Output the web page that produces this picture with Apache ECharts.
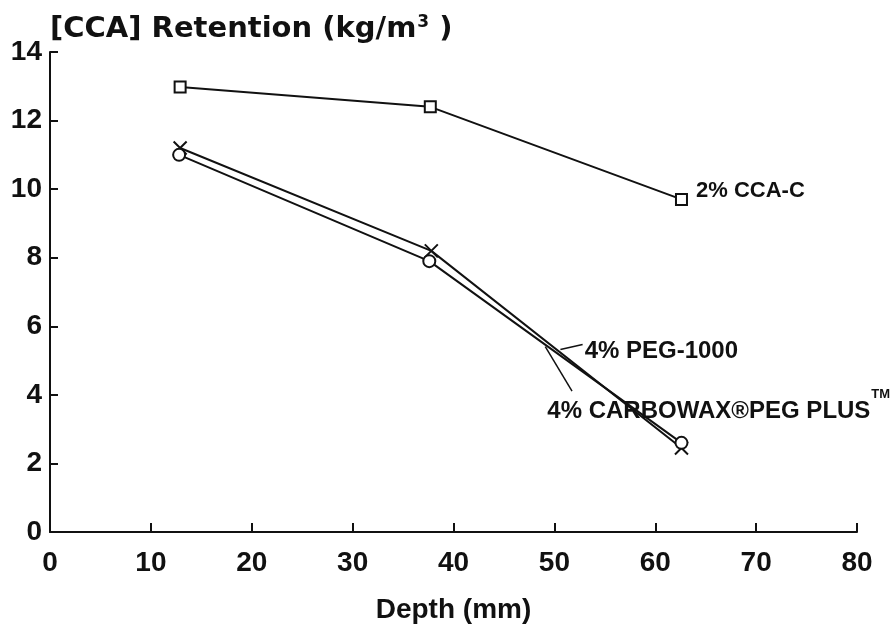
<!DOCTYPE html>
<html>
<head>
<meta charset="utf-8">
<script src="https://cdn.jsdelivr.net/npm/echarts@6/dist/echarts.min.js"></script>
<style>
  html, body { margin: 0; padding: 0; background: #fff; }
  #chart { width: 892px; height: 629px; }
</style>
</head>
<body>
<div id="chart"></div>
<script>
// Depth of the sample (mm) and measured CCA retention (kg/m3)
const depthCCA = [12.9, 37.7, 62.6];
const retentionCCA = [12.98, 12.4, 9.7];

const depthPEG = [12.9, 37.8, 62.6];
const retentionPEG = [11.2, 8.2, 2.45];

const depthCarbowax = [12.8, 37.6, 62.6];
const retentionCarbowax = [11.0, 7.9, 2.6];

const xTicks = [0, 10, 20, 30, 40, 50, 60, 70, 80];
const yTicks = [0, 2, 4, 6, 8, 10, 12, 14];

const seriesNames = ['2% CCA-C', '4% PEG-1000', '4% CARBOWAX\u00AEPEG PLUS'];

const FONT = '"Liberation Sans", Arial, Helvetica, sans-serif';
const WIDE_FONT = '"DejaVu Sans", "Liberation Sans", sans-serif';
const INK = '#111';

function pairs(xs, ys) {
  return xs.map((x, i) => [x, ys[i]]);
}

const chart = echarts.init(document.getElementById('chart'), null, { renderer: 'canvas' });

const baseLine = {
  type: 'line',
  symbolSize: 12,
  lineStyle: { color: INK, width: 2 },
  itemStyle: { color: '#fff', borderColor: INK, borderWidth: 2 },
  emphasis: { disabled: true },
  animation: false,
  z: 3
};

// last CCA point carries the series label on its right
const ccaData = pairs(depthCCA, retentionCCA).map((p, i, arr) => {
  if (i !== arr.length - 1) return p;
  return {
    value: p,
    label: {
      show: true,
      position: 'right',
      distance: 8,
      offset: [0, -8],
      formatter: seriesNames[0],
      color: INK,
      fontFamily: FONT,
      fontWeight: 'bold',
      fontSize: 22
    }
  };
});

chart.setOption({
  backgroundColor: '#fff',
  animation: false,
  title: {
    left: 45,
    top: 9,
    text: '{a|[CCA] Retention (kg/m}{s|3}{a| )}',
    textStyle: {
      rich: {
        a: { fontFamily: WIDE_FONT, fontWeight: 'bold', fontSize: 29, color: INK },
        s: { fontFamily: WIDE_FONT, fontWeight: 'bold', fontSize: 17, color: INK, verticalAlign: 'top', padding: [0, 0, 14, 1] }
      }
    }
  },
  grid: { left: 50, right: 35, top: 52, bottom: 92, containLabel: false },
  xAxis: {
    type: 'value',
    min: 0, max: 80, interval: 10,
    name: 'Depth (mm)',
    nameLocation: 'middle',
    nameGap: 64,
    nameTextStyle: { fontFamily: FONT, fontWeight: 'bold', fontSize: 28, color: INK },
    axisLine: { show: true, onZero: false, lineStyle: { color: INK, width: 2 } },
    axisTick: { show: true, inside: true, length: 9, lineStyle: { color: INK, width: 2 } },
    axisLabel: {
      margin: 17,
      fontFamily: FONT, fontWeight: 'bold', fontSize: 28, color: INK,
      formatter: v => xTicks.includes(v) ? String(v) : ''
    },
    splitLine: { show: false }
  },
  yAxis: {
    type: 'value',
    min: 0, max: 14, interval: 2,
    axisLine: { show: true, onZero: false, lineStyle: { color: INK, width: 2 } },
    axisTick: { show: true, inside: true, length: 8, lineStyle: { color: INK, width: 2 } },
    axisLabel: {
      margin: 8,
      fontFamily: FONT, fontWeight: 'bold', fontSize: 28, color: INK,
      formatter: v => yTicks.includes(v) ? String(v) : ''
    },
    splitLine: { show: false }
  },
  series: [
    Object.assign({}, baseLine, {
      name: seriesNames[0],
      symbol: 'rect',
      symbolSize: 11,
      data: ccaData
    }),
    Object.assign({}, baseLine, {
      name: seriesNames[1],
      symbol: 'path://M0,0L10,10M10,0L0,10',
      symbolSize: 13,
      itemStyle: { color: 'none', borderColor: INK, borderWidth: 2 },
      data: pairs(depthPEG, retentionPEG)
    }),
    Object.assign({}, baseLine, {
      name: seriesNames[2],
      symbol: 'circle',
      symbolSize: 12,
      data: pairs(depthCarbowax, retentionCarbowax)
    })
  ]
});

// annotation labels with short leader lines, anchored in data space
function px(pt) { return chart.convertToPixel({ gridIndex: 0 }, pt); }

const pegLeadA = px([50.6, 5.32]), pegLeadB = px([52.8, 5.47]);
const cbwLeadA = px([49.1, 5.41]), cbwLeadB = px([51.75, 4.11]);
const pegText = px([53.0, 5.26]);
const cbwText = px([49.3, 3.53]);

const textStyle = { fill: INK, fontFamily: FONT, fontWeight: 'bold', fontSize: 24, textVerticalAlign: 'middle' };

chart.setOption({
  graphic: [
    { type: 'line', shape: { x1: pegLeadA[0], y1: pegLeadA[1], x2: pegLeadB[0], y2: pegLeadB[1] }, style: { stroke: INK, lineWidth: 1.5 }, z: 5 },
    { type: 'line', shape: { x1: cbwLeadA[0], y1: cbwLeadA[1], x2: cbwLeadB[0], y2: cbwLeadB[1] }, style: { stroke: INK, lineWidth: 1.5 }, z: 5 },
    { type: 'text', x: pegText[0], y: pegText[1], style: Object.assign({ text: seriesNames[1] }, textStyle), z: 5 },
    { type: 'text', x: cbwText[0], y: cbwText[1], style: Object.assign({ text: seriesNames[2] }, textStyle), z: 1 },
    { type: 'text', x: cbwText[0] + 324, y: cbwText[1] - 17, style: { text: 'TM', fill: INK, fontFamily: FONT, fontWeight: 'bold', fontSize: 13, textVerticalAlign: 'middle' }, z: 5 }
  ]
});
</script>
</body>
</html>
